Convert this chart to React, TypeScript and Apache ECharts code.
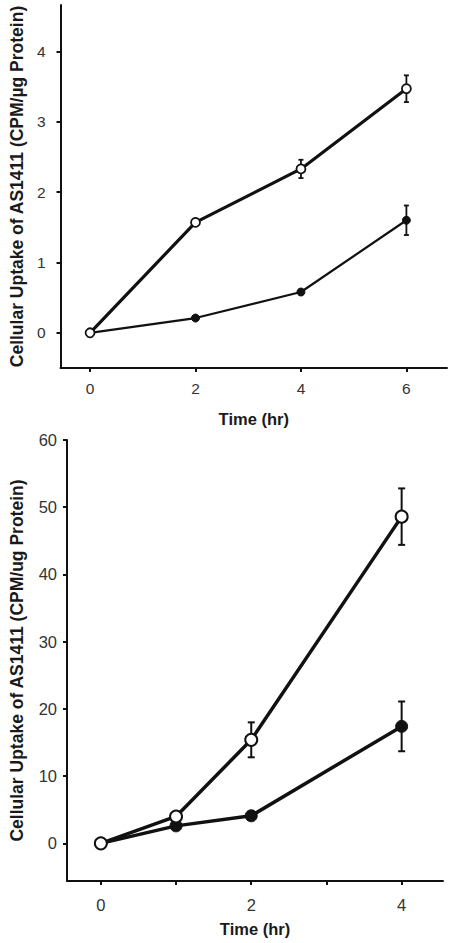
import React, { useEffect, useRef } from "react";
import * as echarts from "echarts";

// ---- Top panel data ----
const topTimes = [0, 2, 4, 6];
const topOpen = [0, 1.57, 2.33, 3.47];
const topOpenErr = [0, 0.05, 0.13, 0.19];
const topFilled = [0, 0.21, 0.58, 1.6];
const topFilledErr = [0, 0.02, 0.03, 0.21];
const topYTicks = [0, 1, 2, 3, 4];
const topXTicks = [0, 2, 4, 6];

// ---- Bottom panel data ----
const botTimes = [0, 1, 2, 4];
const botOpen = [0, 4.0, 15.4, 48.6];
const botOpenErr = [0, 0, 2.6, 4.2];
const botFilled = [0, 2.6, 4.1, 17.4];
const botFilledErr = [0, 0, 0, 3.7];
const botYTicks = [0, 10, 20, 30, 40, 50, 60];
const botXTicks = [0, 1, 2, 3, 4];
const botXLabels = [0, 2, 4];

const topYName = "Cellular Uptake of AS1411 (CPM/\u00b5g Protein)";
const botYName = "Cellular Uptake of AS1411 (CPM/ug Protein)";
const xName = "Time (hr)";

const FONT = "'Liberation Sans', Arial, Helvetica, sans-serif";
const INK = "#111";
const LABEL = "#333";

function errData(xs: number[], ys: number[], es: number[]) {
  return xs.map((x, i) => [x, ys[i] - es[i], ys[i] + es[i]]);
}

function errRender(capHalf: number, lw: number) {
  return (params: any, api: any) => {
    const x = api.value(0);
    const lo = api.value(1);
    const hi = api.value(2);
    if (hi - lo <= 0) return { type: "group", children: [] };
    const p1 = api.coord([x, hi]);
    const p2 = api.coord([x, lo]);
    const style = { stroke: INK, lineWidth: lw };
    return {
      type: "group",
      children: [
        { type: "line", shape: { x1: p1[0], y1: p1[1], x2: p2[0], y2: p2[1] }, style },
        { type: "line", shape: { x1: p1[0] - capHalf, y1: p1[1], x2: p1[0] + capHalf, y2: p1[1] }, style },
        { type: "line", shape: { x1: p2[0] - capHalf, y1: p2[1], x2: p2[0] + capHalf, y2: p2[1] }, style },
      ],
    };
  };
}

function pairs(xs: number[], ys: number[]) {
  return xs.map((x, i) => [x, ys[i]]);
}

export default function App() {
  const ref = useRef<HTMLDivElement>(null);

  useEffect(() => {
    document.body.style.margin = "0";
    if (!ref.current) return;
    const chart = echarts.init(ref.current, null, { renderer: "svg" });

    const axisLine = { show: true, onZero: false, lineStyle: { color: INK, width: 2 } };
    const nameStyle = { fontSize: 17.5, fontWeight: "bold", color: "#1a1a1a", fontFamily: FONT };

    const option: any = {
      animation: false,
      backgroundColor: "#fff",
      grid: [
        { left: 53, top: 5, width: 394, height: 363 },
        { left: 62, top: 440, width: 381, height: 441 },
      ],
      xAxis: [
        {
          type: "value",
          gridIndex: 0,
          min: -0.56,
          max: 6.77,
          axisLine,
          splitLine: { show: false },
          axisTick: { show: true, inside: false, length: 4, customValues: topXTicks, lineStyle: { color: INK, width: 2 } },
          axisLabel: { customValues: topXTicks, margin: 12, fontSize: 15.5, color: LABEL, fontFamily: FONT },
          name: xName,
          nameLocation: "middle",
          nameGap: 42,
          nameTextStyle: { ...nameStyle, fontSize: 16.5 },
        },
        {
          type: "value",
          gridIndex: 1,
          min: -0.45,
          max: 4.55,
          axisLine,
          splitLine: { show: false },
          axisTick: { show: true, inside: false, length: 4, customValues: botXTicks, lineStyle: { color: INK, width: 2 } },
          axisLabel: { customValues: botXLabels, margin: 15, fontSize: 16.5, color: LABEL, fontFamily: FONT },
          name: xName,
          nameLocation: "middle",
          nameGap: 39,
          nameTextStyle: { ...nameStyle, fontSize: 16.5 },
        },
      ],
      yAxis: [
        {
          type: "value",
          gridIndex: 0,
          min: -0.5,
          max: 4.66,
          axisLine,
          splitLine: { show: false },
          axisTick: { show: true, inside: false, length: 4, customValues: topYTicks, lineStyle: { color: INK, width: 2 } },
          axisLabel: { customValues: topYTicks, margin: 15, fontSize: 15.5, color: LABEL, fontFamily: FONT },
          name: topYName,
          nameLocation: "middle",
          nameGap: 34,
          nameTextStyle: nameStyle,
        },
        {
          type: "value",
          gridIndex: 1,
          min: -5.6,
          max: 60,
          axisLine,
          splitLine: { show: false },
          axisTick: { show: true, inside: false, length: 4, customValues: botYTicks, lineStyle: { color: INK, width: 2 } },
          axisLabel: { customValues: botYTicks, margin: 10, fontSize: 16.5, color: LABEL, fontFamily: FONT },
          name: botYName,
          nameLocation: "middle",
          nameGap: 41,
          nameTextStyle: nameStyle,
        },
      ],
      series: [
        // top panel error bars
        {
          type: "custom",
          xAxisIndex: 0,
          yAxisIndex: 0,
          renderItem: errRender(2.5, 1.8),
          encode: { x: 0, y: [1, 2] },
          data: errData(topTimes, topFilled, topFilledErr),
          z: 1,
        },
        {
          type: "custom",
          xAxisIndex: 0,
          yAxisIndex: 0,
          renderItem: errRender(2.5, 1.8),
          encode: { x: 0, y: [1, 2] },
          data: errData(topTimes, topOpen, topOpenErr),
          z: 1,
        },
        {
          type: "line",
          xAxisIndex: 0,
          yAxisIndex: 0,
          data: pairs(topTimes, topFilled),
          symbol: "circle",
          symbolSize: 8,
          lineStyle: { color: INK, width: 2.2 },
          itemStyle: { color: INK, borderColor: INK, borderWidth: 1 },
          z: 3,
        },
        {
          type: "line",
          xAxisIndex: 0,
          yAxisIndex: 0,
          data: pairs(topTimes, topOpen),
          symbol: "circle",
          symbolSize: 9,
          showAllSymbol: true,
          lineStyle: { color: INK, width: 3.2 },
          itemStyle: { color: "#fff", borderColor: INK, borderWidth: 1.8 },
          z: 4,
        },
        // bottom panel error bars
        {
          type: "custom",
          xAxisIndex: 1,
          yAxisIndex: 1,
          renderItem: errRender(3.5, 2),
          encode: { x: 0, y: [1, 2] },
          data: errData(botTimes, botFilled, botFilledErr),
          z: 1,
        },
        {
          type: "custom",
          xAxisIndex: 1,
          yAxisIndex: 1,
          renderItem: errRender(3.5, 2),
          encode: { x: 0, y: [1, 2] },
          data: errData(botTimes, botOpen, botOpenErr),
          z: 1,
        },
        {
          type: "line",
          xAxisIndex: 1,
          yAxisIndex: 1,
          data: pairs(botTimes, botFilled),
          symbol: "circle",
          symbolSize: 12,
          lineStyle: { color: INK, width: 3.5 },
          itemStyle: { color: INK, borderColor: INK, borderWidth: 1 },
          z: 3,
        },
        {
          type: "line",
          xAxisIndex: 1,
          yAxisIndex: 1,
          data: pairs(botTimes, botOpen),
          symbol: "circle",
          symbolSize: 12,
          showAllSymbol: true,
          lineStyle: { color: INK, width: 3.5 },
          itemStyle: { color: "#fff", borderColor: INK, borderWidth: 2 },
          z: 4,
        },
      ],
    };

    chart.setOption(option);
    return () => {
      chart.dispose();
    };
  }, []);

  return <div ref={ref} style={{ width: 450, height: 943 }} />;
}
